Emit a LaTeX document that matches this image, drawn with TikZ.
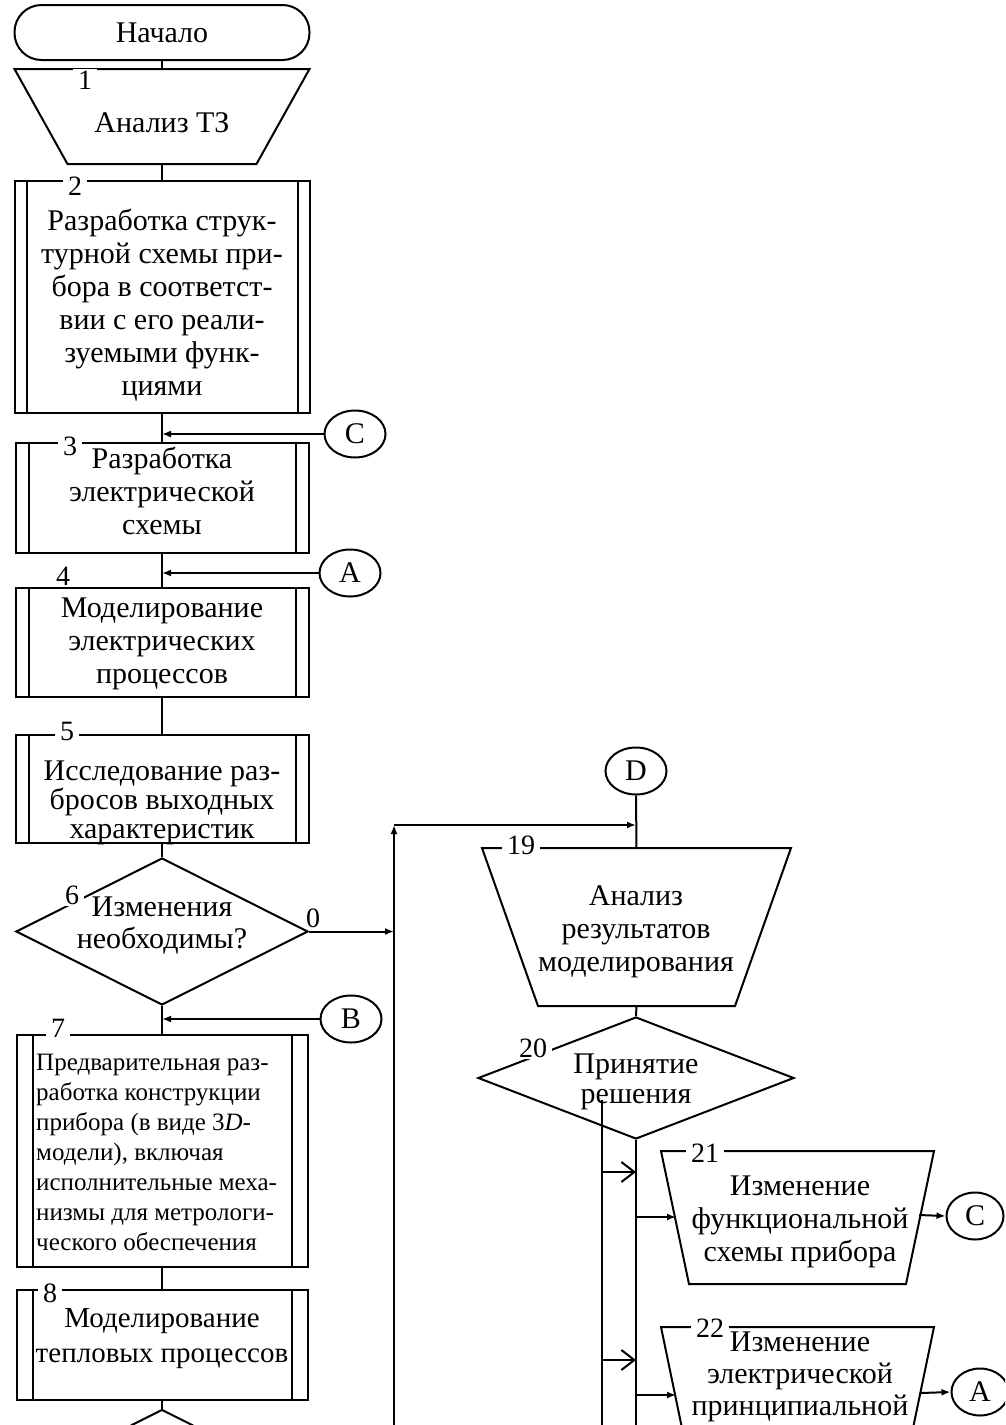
\documentclass[tikz,border=0pt]{standalone}
\usepackage{fontspec}
\setmainfont{Liberation Serif}
\usetikzlibrary{shapes.geometric,arrows.meta,positioning}
\tikzset{
    flowline/.style={line width=2pt},
    flowarrow/.style={flowline, -{Latex[length=9pt,width=7pt]}},
    chevarrow/.style={flowline, -{Straight Barb[length=13pt,width=20pt]}},
    blk/.style={flowline, inner sep=0pt, align=center, font=\fontsize{30}{33}\selectfont},
    txt/.style={inner sep=0pt, align=center, font=\fontsize{30}{33}\selectfont},
    termbox/.style={blk, draw, rectangle, rounded corners=27pt, minimum width=295pt, minimum height=55pt},
    procbox/.style 2 args={blk, draw, rectangle, minimum width=293pt, minimum height=#1, path picture={
        \draw[flowline] ([xshift=#2]path picture bounding box.north west) -- ([xshift=#2]path picture bounding box.south west);
        \draw[flowline] ([xshift=-#2]path picture bounding box.north east) -- ([xshift=-#2]path picture bounding box.south east);}},
    manbox/.style 2 args={blk, rectangle, minimum width=#1, minimum height=#2},
    decbox/.style 2 args={blk, draw, diamond, aspect=2, minimum width=#1, minimum height=#2},
    connbox/.style={blk, draw, ellipse, minimum width=61pt, minimum height=47pt},
    numlab/.style={fill=white, inner xsep=5pt, inner ysep=2pt, font=\fontsize{28}{33}\selectfont}
}
% manual operation outline: wide top, narrow bottom
\newcommand{\trapez}[2]{\draw[flowline] (#1.north west) -- (#1.north east) -- ([xshift=-#2]#1.south east) -- ([xshift=#2]#1.south west) -- cycle;}
\begin{document}
\begin{tikzpicture}[x=1pt,y=-1pt]
\useasboundingbox (0,0) rectangle (1005,1425);
\clip (0,0) rectangle (1005,1425);

% left column
\node[termbox] (start) at (162,32.5) {Начало};
\node[manbox={293pt}{93pt}] (b1) at (162,116.5) {};
\trapez{b1}{53pt}
\node[procbox={232pt}{12pt}, minimum width=295pt] (b2) at (162,297) {};
\node[procbox={110pt}{13pt}] (b3) at (162,498) {};
\node[procbox={109pt}{13pt}] (b4) at (162,642.5) {};
\node[procbox={108pt}{13pt}] (b5) at (162,789) {};
\node[decbox={292pt}{147pt}] (d6) at (162,931.5) {};
\node[procbox={232pt}{16pt}, minimum width=291pt] (b7) at (162,1151) {};
\node[procbox={110pt}{16pt}, minimum width=291pt] (b8) at (162,1345) {};
\node[decbox={292pt}{147pt}] (d9) at (162,1483) {};

\node[txt] (t1) at (162,123) {Анализ ТЗ};
\node[txt] (t2) at (162,305) {Разработка струк-\\турной схемы при-\\бора в соответст-\\вии с его реали-\\зуемыми функ-\\циями};
\node[txt] (t3) at (162,491) {Разработка\\электрической\\схемы};
\node[txt] (t4) at (162,644) {Моделирование\\электрических\\процессов};
\node[txt, font=\fontsize{30}{29}\selectfont] (t5) at (162,803) {Исследование раз-\\бросов выходных\\характеристик};
\node[txt, font=\fontsize{30}{32}\selectfont] (t6) at (162,926) {Изменения\\необходимы?};
\node[txt, align=left, anchor=west, font=\fontsize{25}{30}\selectfont] (t7) at (36,1152) {Предварительная раз-\\работка конструкции\\прибора (в виде 3\textit{D}-\\модели), включая\\исполнительные меха-\\низмы для метрологи-\\ческого обеспечения};
\node[txt, font=\fontsize{29}{35}\selectfont] (t8) at (162,1339) {Моделирование\\тепловых процессов};

% connectors
\node[connbox] (C1) at (355,434) {C};
\node[connbox] (A1) at (350,573) {A};
\node[connbox] (B1) at (351,1019) {B};
\node[connbox] (D) at (636,771) {D};
\node[connbox, minimum width=57pt] (C2) at (975,1216) {C};
\node[connbox, minimum width=57pt] (A2) at (980,1392) {A};

% right column
\node[manbox={307pt}{156pt}] (b19) at (636.5,927) {};
\trapez{b19}{56pt}
\node[decbox={316pt}{122pt}] (d20) at (636,1078) {};
\node[manbox={271pt}{131pt}] (b21) at (797.5,1217.5) {};
\trapez{b21}{28pt}
\node[manbox={271pt}{104pt}] (b22) at (797.5,1380) {};
\trapez{b22}{22pt}

\node[txt] (t19) at (636,932) {Анализ\\результатов\\моделирования};
\node[txt, font=\fontsize{30}{30}\selectfont] (t20) at (636,1082) {Принятие\\решения};
\node[txt] (t21) at (800,1222) {Изменение\\функциональной\\схемы прибора};
\node[txt, font=\fontsize{30}{32}\selectfont] (t22) at (800,1377) {Изменение\\электрической\\принципиальной};

% numbers
\foreach \n/\x/\y in {1/85/80, 2/75/186, 3/70/446, 4/63/576, 5/67/731, 6/72/895, 7/58/1028, 8/50/1293, 19/521/845, 20/533/1048, 21/705/1153, 22/710/1328}
    \node[numlab] (n\n) at (\x,\y) {\n};
\node[font=\fontsize{28}{33}\selectfont] (zero) at (313,918) {0};

% main line
\foreach \a/\b in {start/b1, b1/b2, b2/b3, b3/b4, b4/b5, b5/d6, d6/b7, b7/b8, b8/d9, D/b19, b19/d20}
    \draw[flowline] (\a.south) -- (\b.north);
\foreach \c/\b in {C1/b3, A1/b4, B1/b7}
    \draw[flowarrow] (\c.west) -- (\c.west -| \b.north);

% loop to D
\coordinate (lb) at (394,1440);
\coordinate (lt) at (394,825);
\draw[flowarrow] (d6.east) -- (d6.east -| lb);
\draw[flowarrow] (lb) -- (lt);
\draw[flowarrow] (lt) -- (lt -| D.south);

% decision branches
\coordinate (sp) at (636,1440);
\coordinate (rt) at (602,1100);
\coordinate (rb) at (602,1440);
\draw[flowline] (d20.south) -- (sp);
\draw[flowline] (rt) -- (rb);
\foreach \y in {1172,1360}
    \draw[chevarrow] (rt |- 0,\y) -- (sp |- 0,\y);
\coordinate (w21) at (676,1217);
\coordinate (e21) at (919,1215);
\coordinate (w22) at (676,1395);
\coordinate (e22) at (921,1393);
\draw[flowarrow] (w21 -| sp) -- (w21);
\draw[flowarrow] (w22 -| sp) -- (w22);
\draw[flowarrow] (e21) -- (C2.west);
\draw[flowarrow] (e22) -- (A2.west);
\end{tikzpicture}
\end{document}
